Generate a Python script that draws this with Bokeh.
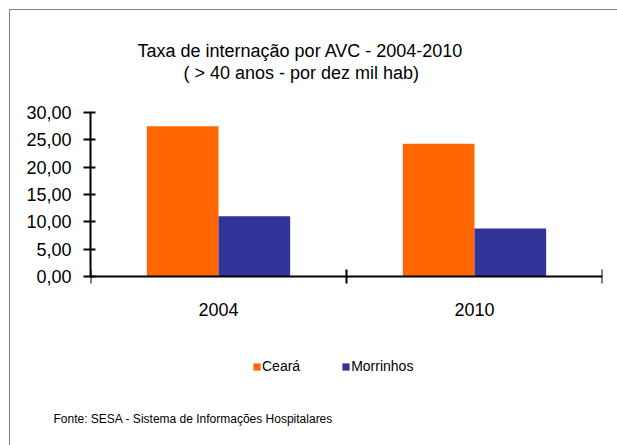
from bokeh.plotting import figure
from bokeh.models import (ColumnDataSource, Range1d, FixedTicker, Legend,
                          LegendItem, LinearAxis, Title)
from bokeh.transform import dodge
from bokeh.embed import file_html
from bokeh.resources import INLINE

# ---- data ----
years = ["2004", "2010"]
ceara = [27.5, 24.3]
morrinhos = [11.0, 8.8]
series_names = ["Ceará", "Morrinhos"]
series_colors = ["#FF6600", "#333399"]
y_ticks = [0, 5, 10, 15, 20, 25, 30]
y_tick_labels = ["0,00", "5,00", "10,00", "15,00", "20,00", "25,00", "30,00"]
title_line1 = "Taxa de internação por AVC - 2004-2010"
title_line2 = "( > 40 anos - por dez mil hab)"
source_note = "Fonte: SESA - Sistema de Informações Hospitalares"

FONT = "Liberation Sans"

# ---- layout (pixels) ----
FRAME_TOP, AXIS_Y, FRAME_BOTTOM = 112, 276, 405
Y_MAX = y_ticks[-1]
y_start = -Y_MAX * (FRAME_BOTTOM - AXIS_Y) / (AXIS_Y - FRAME_TOP)

pos = [i + 0.5 for i in range(len(years))]
src = ColumnDataSource(dict(x=pos, year=years, ceara=ceara, morrinhos=morrinhos))

p = figure(width=None, height=None, frame_width=512, frame_height=FRAME_BOTTOM - FRAME_TOP,
           x_range=Range1d(0, len(years)), y_range=Range1d(y_start, Y_MAX),
           output_backend="svg", toolbar_location=None,
           x_axis_type=None, y_axis_type=None,
           min_border_left=90, min_border_right=15, min_border_top=FRAME_TOP,
           min_border_bottom=445 - FRAME_BOTTOM)
p.title.text = ""
p.title.visible = False
p.styles = {
    "background-color": "white",
    "background-image": "linear-gradient(#808080, #808080), linear-gradient(#808080, #808080)",
    "background-size": "608px 1px, 1px 436px",
    "background-position": "9px 9px, 9px 9px",
    "background-repeat": "no-repeat",
}
p.outline_line_color = None
p.xgrid.visible = False
p.ygrid.visible = False
p.background_fill_color = "white"
p.border_fill_alpha = 0

bw = 0.28
r1 = p.vbar(x=dodge("x", -bw / 2), top="ceara", width=bw, source=src,
            fill_color=series_colors[0], line_color=None)
r2 = p.vbar(x=dodge("x", bw / 2), top="morrinhos", width=bw, source=src,
            fill_color=series_colors[1], line_color=None)

# y axis
yax = LinearAxis(ticker=FixedTicker(ticks=y_ticks), bounds=(0, Y_MAX),
                 major_label_overrides={t: l for t, l in zip(y_ticks, y_tick_labels)})
yax.axis_line_width = 2
yax.axis_line_color = "black"
yax.major_tick_in = 5
yax.major_tick_out = 7
yax.major_tick_line_width = 2
yax.minor_tick_line_color = None
yax.major_label_text_font = FONT
yax.major_label_text_font_size = "18px"
yax.major_label_text_color = "black"
yax.major_label_standoff = 12
p.add_layout(yax, "left")

# x axis at y = 0: labels at category centres, tick marks at category boundaries
xax = LinearAxis(ticker=FixedTicker(ticks=pos, minor_ticks=list(range(len(years) + 1))),
                 major_label_overrides={x: y for x, y in zip(pos, years)},
                 fixed_location=0)
xax.axis_line_width = 2
xax.axis_line_color = "black"
xax.major_tick_line_color = None
xax.major_tick_in = 0
xax.major_tick_out = 0
xax.minor_tick_in = 7
xax.minor_tick_out = 7
xax.minor_tick_line_width = 2
xax.minor_tick_line_color = "black"
xax.major_label_text_font = FONT
xax.major_label_text_font_size = "18px"
xax.major_label_text_color = "black"
xax.major_label_standoff = 19
p.add_layout(xax, "below")

# legend under the axis (inside the frame area)
legend = Legend(items=[LegendItem(label=series_names[0], renderers=[r1]),
                       LegendItem(label=series_names[1], renderers=[r2])],
                orientation="horizontal", location=(162, 31),
                glyph_width=9, glyph_height=9, label_standoff=1, spacing=41,
                label_height=16, padding=0, margin=0,
                border_line_color=None, background_fill_alpha=0,
                label_text_font=FONT, label_text_font_size="14px", label_text_color="black")
p.add_layout(legend, "center")

# footer note
p.add_layout(Title(text=source_note, align="left", offset=-37, standoff=13,
                   vertical_align="top",
                   text_font=FONT, text_font_size="12px", text_font_style="normal",
                   text_color="black"), "below")

# title block: spacer, then the two lines (first added sits nearest the plot)
p.add_layout(Title(text=" ", standoff=27, text_font_size="1px"), "above")
p.add_layout(Title(text=title_line2, align="left", offset=93, standoff=0,
                   text_font=FONT, text_font_size="18px", text_font_style="normal",
                   text_color="black"), "above")
p.add_layout(Title(text=title_line1, align="left", offset=47, standoff=0,
                   text_font=FONT, text_font_size="18px", text_font_style="normal",
                   text_color="black"), "above")

open("out.html", "w").write(file_html(p, INLINE))
